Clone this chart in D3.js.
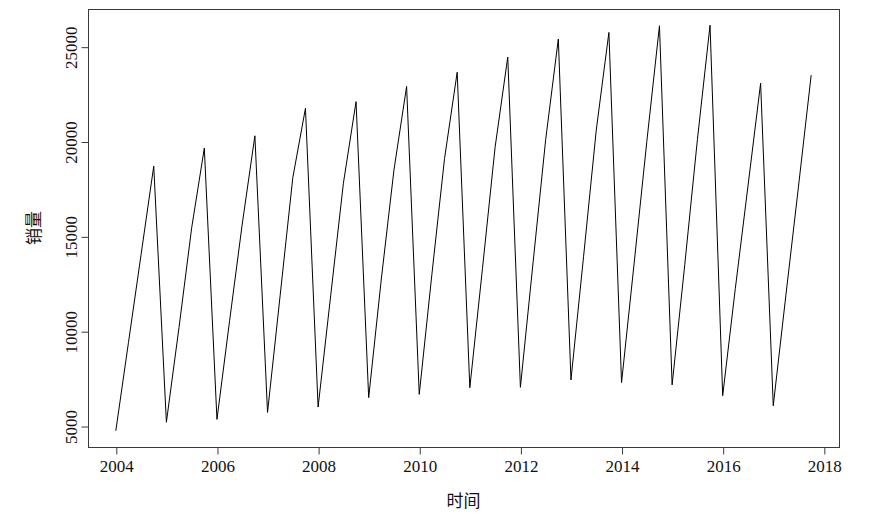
<!DOCTYPE html>
<html>
<head>
<meta charset="utf-8">
<script src="https://cdn.jsdelivr.net/npm/d3@7/dist/d3.min.js"></script>
<style>
  html, body { margin: 0; padding: 0; background: #fff; }
  svg { display: block; }
</style>
</head>
<body>
<svg id="chart" width="875" height="515"></svg>
<script>
// 季度销量时间序列 (ts, start = 2004, frequency = 4)
const startYear = 2004;
const freq = 4;
const sales = [
  4750, 9400, 14050, 18700,
  5200, 10200, 15450, 19650,
  5350, 10550, 15650, 20300,
  5720, 11900, 18100, 21750,
  6000, 11900, 17800, 22100,
  6500, 12750, 18500, 22900,
  6670, 13000, 19100, 23650,
  7020, 13300, 19700, 24450,
  7040, 13600, 20100, 25400,
  7430, 13950, 20600, 25750,
  7290, 13600, 20000, 26100,
  7170, 13500, 20100, 26130,
  6600, 12250, 17650, 23070,
  6070, 11900, 17650, 23500
];
const xTicks = [2004, 2006, 2008, 2010, 2012, 2014, 2016, 2018];
const yTicks = [5000, 10000, 15000, 20000, 25000];
const xTitle = '时间';
const yTitle = '销量';

const pts = sales.map((v, i) => ({ t: startYear + i / freq, v }));

// plot region, R-style 4% padding around data
const box = { l: 88, r: 839, t: 9, b: 447 };
function pad(ext) { const d = (ext[1] - ext[0]) * 0.04; return [ext[0] - d, ext[1] + d]; }

const x = d3.scaleLinear().domain(pad(d3.extent(pts, d => d.t))).range([box.l, box.r]);
const y = d3.scaleLinear().domain(pad(d3.extent(pts, d => d.v))).range([box.b, box.t]);

const svg = d3.select('#chart');
const serif = '"Liberation Serif", "Times New Roman", serif';
const cjk = '"Noto Sans CJK SC", sans-serif';
const axisCol = '#3a3a3a';

// series line
svg.append('path')
  .datum(pts)
  .attr('fill', 'none')
  .attr('stroke', '#000')
  .attr('stroke-width', 1)
  .attr('d', d3.line().x(d => x(d.t)).y(d => y(d.v)));

// box
svg.append('rect')
  .attr('x', box.l + 0.5).attr('y', box.t + 0.5)
  .attr('width', box.r - box.l).attr('height', box.b - box.t)
  .attr('fill', 'none').attr('stroke', axisCol).attr('stroke-width', 1);

// x axis
const gx = svg.append('g').attr('transform', `translate(0.5,${box.b + 0.5})`)
  .call(d3.axisBottom(x).tickValues(xTicks).tickFormat(d3.format('d')).tickSize(7).tickPadding(5));
gx.select('.domain').remove();
gx.append('line')
  .attr('x1', x(xTicks[0])).attr('x2', x(xTicks[xTicks.length - 1]))
  .attr('stroke', axisCol);
gx.selectAll('.tick line').attr('stroke', axisCol);
gx.selectAll('.tick text')
  .attr('font-family', serif).style('font-size', '17px').attr('fill', '#111');

// y axis, labels parallel to axis
const gy = svg.append('g').attr('transform', `translate(${box.l + 0.5},0.5)`)
  .call(d3.axisLeft(y).tickValues(yTicks).tickFormat(d3.format('d')).tickSize(7));
gy.select('.domain').remove();
gy.append('line')
  .attr('y1', y(yTicks[0])).attr('y2', y(yTicks[yTicks.length - 1]))
  .attr('stroke', axisCol);
gy.selectAll('.tick line').attr('stroke', axisCol);
gy.selectAll('.tick text')
  .attr('x', null).attr('dy', null)
  .attr('text-anchor', 'middle')
  .attr('transform', 'translate(-12,0) rotate(-90)')
  .attr('font-family', serif).style('font-size', '17px').attr('fill', '#111');

// axis titles
svg.append('text')
  .attr('x', (box.l + box.r) / 2).attr('y', 507)
  .attr('text-anchor', 'middle')
  .attr('font-family', cjk).style('font-size', '17px').attr('fill', '#111')
  .text(xTitle);
svg.append('text')
  .attr('transform', `translate(40,${(box.t + box.b) / 2}) rotate(-90)`)
  .attr('text-anchor', 'middle')
  .attr('font-family', cjk).style('font-size', '17px').attr('fill', '#111')
  .text(yTitle);
</script>
</body>
</html>
